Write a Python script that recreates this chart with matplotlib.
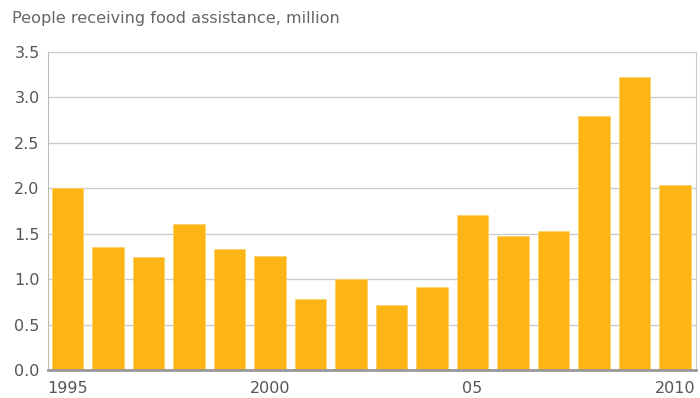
import matplotlib
matplotlib.use("Agg")
import matplotlib.pyplot as plt

plt.rcParams['font.family'] = ['DejaVu Sans']

years = list(range(1995, 2011))
people = [2.00, 1.35, 1.24, 1.61, 1.33, 1.25, 0.78, 1.00, 0.72, 0.91,
          1.71, 1.48, 1.53, 2.80, 3.22, 2.04]
tick_years = [1995, 2000, 2005, 2010]
tick_labels = ['1995', '2000', '05', '2010']

fig = plt.figure(figsize=(7, 3.98), dpi=100)
ax = fig.add_axes([48 / 700, 28 / 398, 648 / 700, 318 / 398])

ax.bar(years, people, width=0.77, color='#FDB515', edgecolor='#FFD36B',
       linewidth=0.6, zorder=3)

ax.set_xlim(1994.52, 2010.52)
ax.set_ylim(0, 3.5)
ax.set_yticks([0, 0.5, 1.0, 1.5, 2.0, 2.5, 3.0, 3.5])
ax.set_yticklabels(['0.0', '0.5', '1.0', '1.5', '2.0', '2.5', '3.0', '3.5'])
ax.set_xticks(tick_years)
ax.set_xticklabels(tick_labels)

ax.grid(axis='y', color='#CCCCCC', linewidth=1, zorder=0)
ax.tick_params(length=0, labelsize=11.5, colors='#555555')
ax.tick_params(axis='x', pad=8)
ax.tick_params(axis='y', pad=6)

ax.spines['top'].set_visible(False)
ax.spines['left'].set_color('#BBBBBB')
ax.spines['right'].set_color('#CCCCCC')
ax.spines['bottom'].set_color('#999999')
ax.spines['bottom'].set_linewidth(2)
ax.spines['bottom'].set_zorder(4)

fig.text(12 / 700, 1 - 18 / 398, 'People receiving food assistance, million',
         fontsize=11.6, color='#666666', va='center', ha='left')

fig.savefig('out.png', dpi=100)
